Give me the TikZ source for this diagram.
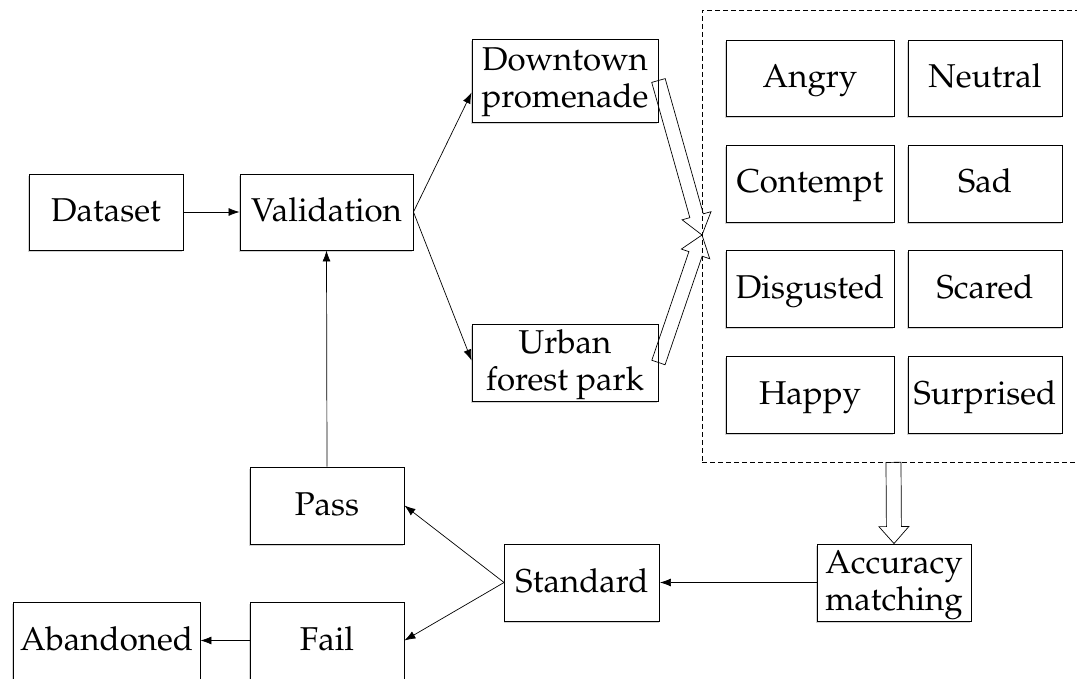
\documentclass[tikz,border=0pt]{standalone}
\usepackage[T1]{fontenc}
\usepackage{mathpazo}
\usetikzlibrary{arrows.meta,calc,shadows}
\newcommand{\hollowarr}[5]{% tail, tip, shaft half-width, head half-width, head length
  \coordinate (ha-c) at ($(#2)!#5!(#1)$);
  \draw[hollow] ($(#1)!#3!90:(#2)$) -- ($(ha-c)!#3!-90:(#1)$) -- ($(ha-c)!#4!-90:(#1)$) -- (#2)
    -- ($(ha-c)!#4!90:(#1)$) -- ($(ha-c)!#3!90:(#1)$) -- ($(#1)!#3!-90:(#2)$) -- cycle;}
\begin{document}
\begin{tikzpicture}[x=1pt,y=-1pt,
  every node/.style={font=\fontsize{33}{37}\selectfont},
  box/.style={draw, line width=0.9pt, fill=white, inner sep=0pt, align=center,
    text height=19pt, text depth=0pt,
    drop shadow={shadow xshift=-1pt, shadow yshift=-1.8pt, opacity=0.35, fill=gray}},
  line1/.style={anchor=base, inner sep=0pt, yshift=9.5pt},
  line2/.style={anchor=base, inner sep=0pt, yshift=-27.5pt},
  conn/.style={line width=0.7pt, -{Latex[length=11pt,width=8pt]}},
  hollow/.style={line width=0.7pt, line join=miter},
  grp/.style={draw, dash pattern=on 5pt off 3pt, line width=0.7pt, inner sep=0pt}]
\useasboundingbox (0,0) rectangle (1077,679);
% dashed group
\node[grp, minimum width=383pt, minimum height=452pt] (group) at (893.5,236) {};
% main nodes
\node[box, minimum width=154pt, minimum height=76pt] (dataset) at (106,212) {Dataset};
\node[box, minimum width=173pt, minimum height=76pt] (valid) at (326.5,212) {Validation};
\node[box, minimum width=186pt, minimum height=83pt] (down) at (565,80.5) {};
\node[line1] (down-a) at (down.center) {Downtown};
\node[line2] (down-b) at (down.center) {promenade};
\node[box, minimum width=186pt, minimum height=77pt] (urban) at (565,362.5) {};
\node[line1] (urban-a) at (urban.center) {Urban};
\node[line2] (urban-b) at (urban.center) {forest park};
% emotions
\node[box, minimum width=168pt, minimum height=76pt] (angry) at (810,78) {Angry};
\node[box, minimum width=154pt, minimum height=76pt] (neutral) at (985,78) {Neutral};
\node[box, minimum width=168pt, minimum height=77pt] (contempt) at (810,183.5) {Contempt};
\node[box, minimum width=154pt, minimum height=77pt] (sad) at (985,183.5) {Sad};
\node[box, minimum width=168pt, minimum height=77pt] (disgusted) at (810,289) {Disgusted};
\node[box, minimum width=154pt, minimum height=77pt] (scared) at (985,289) {Scared};
\node[box, minimum width=168pt, minimum height=77pt] (happy) at (810,394.5) {Happy};
\node[box, minimum width=154pt, minimum height=77pt] (surprised) at (985,394.5) {Surprised};
% bottom
\node[box, minimum width=154pt, minimum height=77pt] (acc) at (894,582.5) {};
\node[line1] (acc-a) at (acc.center) {Accuracy};
\node[line2] (acc-b) at (acc.center) {matching};
\node[box, minimum width=155pt, minimum height=77pt] (std) at (582,582.5) {Standard};
\node[box, minimum width=154pt, minimum height=77pt] (pass) at (327,505.5) {Pass};
\node[box, minimum width=154pt, minimum height=77pt] (fail) at (327,640.5) {Fail};
\node[box, minimum width=187pt, minimum height=77pt] (aband) at (106.5,640.5) {Abandoned};
% connectors
\draw[conn] (dataset.east) -- (valid.west);
\draw[conn] (valid.east) -- ([yshift=-12pt]down.west);
\draw[conn] (valid.east) -- ([yshift=2pt]urban.west);
\draw[conn] (pass.north) -- (valid.south);
\draw[conn] (std.west) -- (pass.east);
\draw[conn] (std.west) -- (fail.east);
\draw[conn] (acc.west) -- (std.east);
\draw[conn] (fail.west) -- (aband.east);
% hollow arrows
\coordinate (meet) at (702,235);
\hollowarr{down.east}{meet}{7pt}{15pt}{20pt}
\hollowarr{urban.east}{meet}{7pt}{15pt}{20pt}
\hollowarr{group.south}{acc.north}{7.5pt}{15pt}{17pt}
\end{tikzpicture}
\end{document}
